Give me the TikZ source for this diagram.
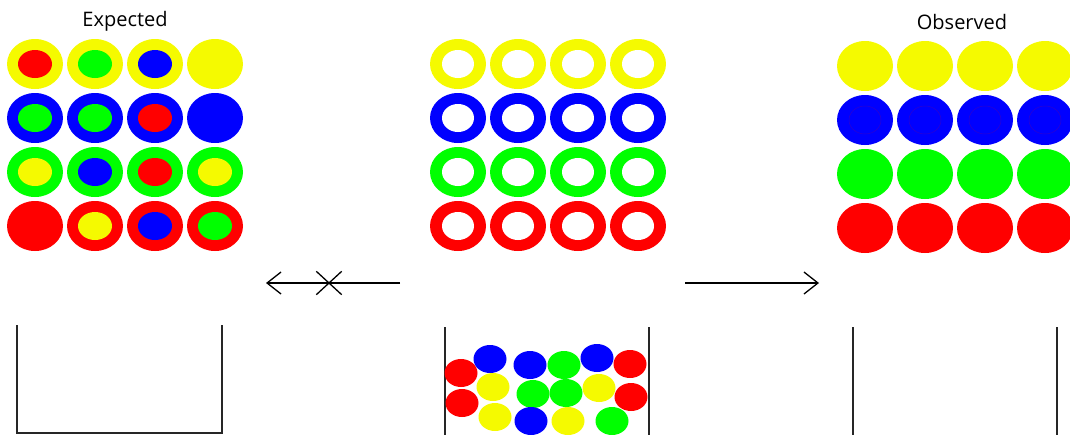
\documentclass[tikz,border=0pt]{standalone}
\usepackage{fontspec}
\setmainfont{Open Sans}
\usetikzlibrary{arrows.meta,shapes.misc}
\definecolor{ballyellow}{RGB}{245,250,0}
\definecolor{ballblue}{RGB}{0,0,255}
\definecolor{ballgreen}{RGB}{0,255,0}
\definecolor{ballred}{RGB}{255,0,0}

\begin{document}
\begin{tikzpicture}[x=1pt,y=-1pt,>={Straight Barb[length=14pt,width=22pt]},font=\fontsize{20}{24}\selectfont]
  \tikzset{
    shell/.style={fill=#1},
    core/.style={fill=#1},
    seam/.style={draw=ballblue!70!ballred,line width=0.5pt,opacity=0.6},
    bin/.style={draw=black!85,line width=1.2pt},
    arr/.style={->,line width=1.3pt},
    title/.style={anchor=base,inner sep=0pt}
  }
  \useasboundingbox (0,0) rectangle (1070,434);

  % Expected: shell colour per row, core colours per column
  \node[title] (expected) at (125,26) {Expected};
  \foreach \r/\sh/\cores in {0/ballyellow/{ballred,ballgreen,ballblue,ballyellow},
                             1/ballblue/{ballgreen,ballgreen,ballred,ballblue},
                             2/ballgreen/{ballyellow,ballblue,ballred,ballyellow},
                             3/ballred/{ballred,ballyellow,ballblue,ballgreen}}
    \foreach \co [count=\c from 0] in \cores {
      \fill[shell=\sh] ({35+60*\c},{64+54*\r}) ellipse [x radius=28pt,y radius=25pt];
      \fill[core=\co] ({35+60*\c},{64+54*\r}) ellipse [x radius=17pt,y radius=14pt];
    }

  % Middle: empty rings
  \foreach \sh [count=\r from 0] in {ballyellow,ballblue,ballgreen,ballred}
    \foreach \c in {0,...,3} {
      \fill[shell=\sh] ({458+60*\c},{64+54*\r}) ellipse [x radius=28pt,y radius=25pt];
      \fill[white] ({458+60*\c},{64+54*\r}) ellipse [x radius=16pt,y radius=14pt];
    }

  % Observed: solid balls
  \node[title] (observed) at (962,29) {Observed};
  \foreach \sh [count=\r from 0] in {ballyellow,ballblue,ballgreen,ballred}
    \foreach \c in {0,...,3}
      \fill[shell=\sh] ({865+60*\c},{66+54*\r}) ellipse [x radius=28pt,y radius=25pt];
  \foreach \c in {0,...,3}
    \draw[seam] ({865+60*\c},120) ellipse [x radius=16pt,y radius=14pt];

  % Arrows
  \coordinate (fromL) at (400,283);
  \coordinate (toL) at (266,283);
  \coordinate (fromR) at (685,283);
  \coordinate (toR) at (819,283);
  \draw[arr] (fromL) -- (toL);
  \node[cross out,draw,line width=1.3pt,minimum width=24pt,minimum height=22pt,inner sep=0pt] (blocked) at (329,283) {};
  \draw[arr] (fromR) -- (toR);

  % Bins
  \draw[bin] (17,325) -- (17,433) -- (222,433) -- (222,325);
  \draw[bin] (445,327) -- (445,436);
  \draw[bin] (649,327) -- (649,436);
  \draw[bin] (853,327) -- (853,436);
  \draw[bin] (1057,327) -- (1057,436);

  % Mixed balls in the middle bin
  \foreach \x/\y/\co in {461/373/ballred,490/359/ballblue,530/365/ballblue,564/365/ballgreen,
                         597/358/ballblue,630/364/ballred,493/387/ballyellow,462/403/ballred,
                         533/394/ballgreen,566/393/ballgreen,599/388/ballyellow,631/397/ballred,
                         495/417/ballyellow,531/421/ballblue,568/421/ballyellow,612/421/ballgreen}
    \fill[core=\co] (\x,\y) ellipse [x radius=16.5pt,y radius=14pt];
\end{tikzpicture}
\end{document}
